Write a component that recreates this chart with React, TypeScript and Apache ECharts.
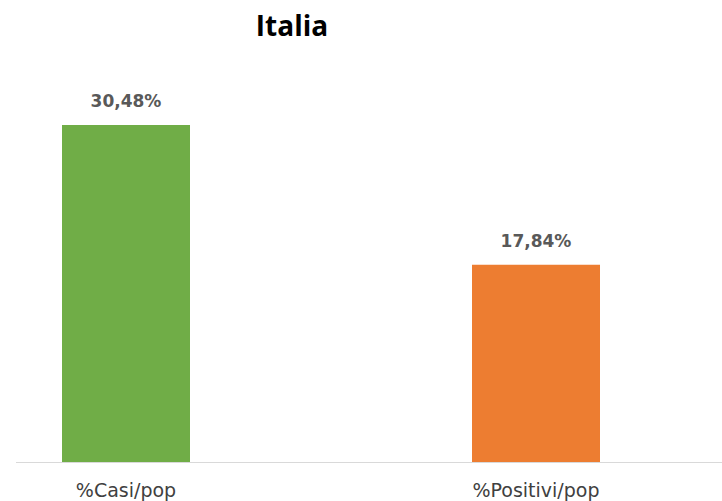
import React, { useEffect, useRef } from "react";
import * as echarts from "echarts";

const categories = ["%Casi/pop", "%Positivi/pop"];
const values = [30.48, 17.84];
const barColors = ["#70ad47", "#ed7d31"];
const titleText = "Italia";

export default function App() {
  const ref = useRef<HTMLDivElement>(null);
  useEffect(() => {
    if (!ref.current) return;
    const chart = echarts.init(ref.current, undefined, { renderer: "svg" });
    chart.setOption({
      animation: false,
      backgroundColor: "#ffffff",
      title: {
        text: titleText,
        left: 287,
        top: 6,
        textAlign: "center",
        textStyle: { fontFamily: "Open Sans", fontSize: 28, fontWeight: "bold", color: "#000000" },
      },
      grid: { left: 126, right: 186, top: 75, bottom: 39, containLabel: false },
      xAxis: {
        type: "category",
        data: categories,
        boundaryGap: false,
        axisLine: { show: false },
        axisTick: { show: false },
        splitLine: { show: false },
        axisLabel: {
          margin: 18,
          fontFamily: "DejaVu Sans",
          fontSize: 19,
          color: "#404040",
        },
      },
      yAxis: {
        type: "value",
        min: 0,
        max: 35,
        show: false,
        splitLine: { show: false },
      },
      graphic: [
        {
          type: "line",
          shape: { x1: 16, y1: 462.5, x2: 722, y2: 462.5 },
          style: { stroke: "#d9d9d9", lineWidth: 1 },
          z: 10,
        },
      ],
      series: [
        {
          type: "bar",
          barWidth: 128,
          data: values.map((v, i) => ({ value: v, itemStyle: { color: barColors[i] } })),
          label: {
            show: true,
            position: "top",
            distance: 15,
            fontFamily: "DejaVu Sans",
            fontSize: 17,
            fontWeight: "bold",
            color: "#595959",
            formatter: (p: any) => p.value.toFixed(2).replace(".", ",") + "%",
          },
        },
      ],
    });
    return () => chart.dispose();
  }, []);
  return <div ref={ref} style={{ width: 722, height: 501, position: "absolute", left: 0, top: 0 }} />;
}
